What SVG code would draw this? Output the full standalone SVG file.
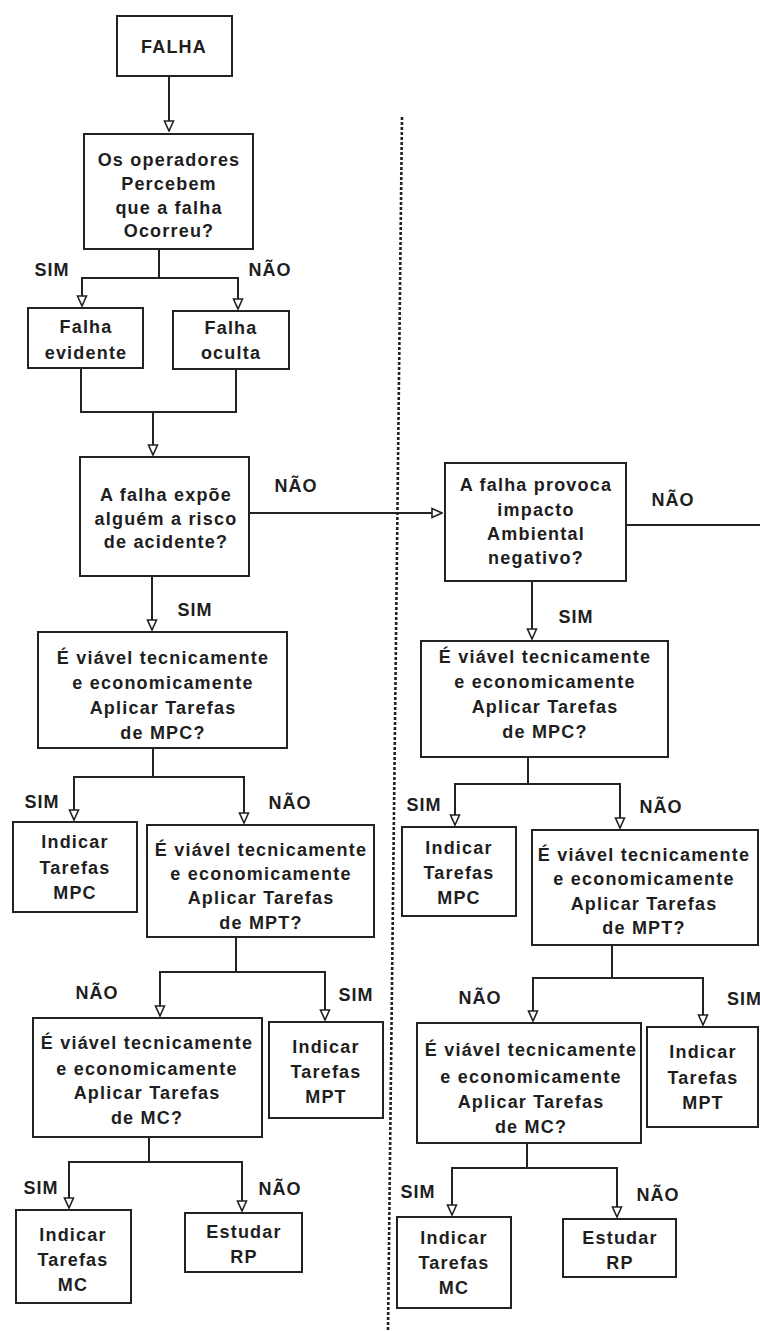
<svg xmlns="http://www.w3.org/2000/svg" width="760" height="1331" viewBox="0 0 760 1331">
<defs>
<style>
.box{fill:#fff;stroke:#222;stroke-width:2}
.t{font-family:"Liberation Sans",Arial,sans-serif;font-size:18px;font-weight:bold;fill:#1e1e1e;text-anchor:middle;dominant-baseline:central;letter-spacing:1.2px}
.lbl{font-family:"Liberation Sans",Arial,sans-serif;font-size:18px;font-weight:bold;fill:#1e1e1e;text-anchor:middle;dominant-baseline:central;letter-spacing:1px}
.c{fill:none;stroke:#222;stroke-width:2}
.ca{fill:none;stroke:#222;stroke-width:2;marker-end:url(#ah)}
.sep{fill:none;stroke:#222;stroke-width:2.6;stroke-dasharray:3 2}
</style>
<marker id="ah" viewBox="0 0 12 12" refX="11" refY="6" markerWidth="12" markerHeight="12" markerUnits="userSpaceOnUse" orient="auto">
<path d="M1,1.5 L11,6 L1,10.5 z" fill="#fff" stroke="#222" stroke-width="1.6"/>
</marker>
</defs>
<rect width="760" height="1331" fill="#fff"/>

<g id="separator">
<line class="sep" x1="402" y1="117" x2="388" y2="1331"/>
</g>

<g id="connectors">
<path class="ca" d="M169,76 V131"/>
<path class="c" d="M159,249 V278"/>
<path class="ca" d="M159,278 H82 V306"/>
<path class="ca" d="M159,278 H238 V309"/>
<path class="c" d="M81,368 V412 H236 V369"/>
<path class="ca" d="M153,412 V455"/>
<path class="ca" d="M249,513 H442"/>
<path class="ca" d="M152,576 V630"/>
<path class="c" d="M626,525 H760"/>
<path class="ca" d="M532,581 V639"/>
<path class="c" d="M153,748 V777"/>
<path class="ca" d="M153,777 H74 V820"/>
<path class="ca" d="M153,777 H244 V823"/>
<path class="c" d="M236,937 V972"/>
<path class="ca" d="M236,972 H160 V1016"/>
<path class="ca" d="M236,972 H325 V1020"/>
<path class="c" d="M149,1137 V1162"/>
<path class="ca" d="M149,1162 H69 V1208"/>
<path class="ca" d="M149,1162 H242 V1211"/>
<path class="c" d="M528,757 V784"/>
<path class="ca" d="M528,784 H455 V825"/>
<path class="ca" d="M528,784 H620 V828"/>
<path class="c" d="M612,945 V978"/>
<path class="ca" d="M612,978 H533 V1021"/>
<path class="ca" d="M612,978 H703 V1025"/>
<path class="c" d="M527,1143 V1168"/>
<path class="ca" d="M527,1168 H452 V1215"/>
<path class="ca" d="M527,1168 H617 V1217"/>
</g>

<g id="labels">
<text class="lbl" x="52" y="270">SIM</text>
<text class="lbl" x="270" y="270">NÃO</text>
<text class="lbl" x="296" y="486">NÃO</text>
<text class="lbl" x="195" y="610">SIM</text>
<text class="lbl" x="673" y="500">NÃO</text>
<text class="lbl" x="576" y="617">SIM</text>
<text class="lbl" x="42" y="802">SIM</text>
<text class="lbl" x="290" y="803">NÃO</text>
<text class="lbl" x="97" y="993">NÃO</text>
<text class="lbl" x="356" y="995">SIM</text>
<text class="lbl" x="41" y="1188">SIM</text>
<text class="lbl" x="280" y="1189">NÃO</text>
<text class="lbl" x="424" y="805">SIM</text>
<text class="lbl" x="661" y="807">NÃO</text>
<text class="lbl" x="480" y="998">NÃO</text>
<text class="lbl" x="727" y="999" style="text-anchor:start">SIM</text>
<text class="lbl" x="418" y="1192">SIM</text>
<text class="lbl" x="658" y="1195">NÃO</text>
</g>

<g id="falha">
<rect class="box" x="117" y="16" width="115" height="60"/>
<text class="t" x="174" y="47">FALHA</text>
</g>

<g id="percebem">
<rect class="box" x="84" y="134" width="169" height="115"/>
<text class="t" x="169" y="160">Os operadores</text>
<text class="t" x="169" y="184">Percebem</text>
<text class="t" x="169" y="208">que a falha</text>
<text class="t" x="169" y="231">Ocorreu?</text>
</g>

<g id="evidente">
<rect class="box" x="28" y="308" width="115" height="60"/>
<text class="t" x="86" y="327">Falha</text>
<text class="t" x="86" y="353">evidente</text>
</g>

<g id="oculta">
<rect class="box" x="173" y="311" width="116" height="58"/>
<text class="t" x="231" y="328">Falha</text>
<text class="t" x="231" y="353">oculta</text>
</g>

<g id="risco">
<rect class="box" x="80" y="457" width="169" height="119"/>
<text class="t" x="166" y="495">A falha expõe</text>
<text class="t" x="166" y="519">alguém a risco</text>
<text class="t" x="166" y="542">de acidente?</text>
</g>

<g id="ambiental">
<rect class="box" x="445" y="463" width="181" height="118"/>
<text class="t" x="536" y="485">A falha provoca</text>
<text class="t" x="536" y="510">impacto</text>
<text class="t" x="536" y="534">Ambiental</text>
<text class="t" x="536" y="558">negativo?</text>
</g>

<g id="mpc-q-left">
<rect class="box" x="38" y="632" width="249" height="116"/>
<text class="t" x="163" y="658">É viável tecnicamente</text>
<text class="t" x="163" y="683">e economicamente</text>
<text class="t" x="163" y="708">Aplicar Tarefas</text>
<text class="t" x="163" y="733">de MPC?</text>
</g>

<g id="mpc-ind-left">
<rect class="box" x="13" y="822" width="124" height="90"/>
<text class="t" x="75" y="842">Indicar</text>
<text class="t" x="75" y="868">Tarefas</text>
<text class="t" x="75" y="893">MPC</text>
</g>

<g id="mpt-q-left">
<rect class="box" x="147" y="825" width="227" height="112"/>
<text class="t" x="261" y="850">É viável tecnicamente</text>
<text class="t" x="261" y="874">e economicamente</text>
<text class="t" x="261" y="898">Aplicar Tarefas</text>
<text class="t" x="261" y="923">de MPT?</text>
</g>

<g id="mc-q-left">
<rect class="box" x="33" y="1018" width="229" height="119"/>
<text class="t" x="147" y="1043">É viável tecnicamente</text>
<text class="t" x="147" y="1069">e economicamente</text>
<text class="t" x="147" y="1093">Aplicar Tarefas</text>
<text class="t" x="147" y="1118">de MC?</text>
</g>

<g id="mpt-ind-left">
<rect class="box" x="269" y="1022" width="114" height="96"/>
<text class="t" x="326" y="1047">Indicar</text>
<text class="t" x="326" y="1072">Tarefas</text>
<text class="t" x="326" y="1097">MPT</text>
</g>

<g id="mc-ind-left">
<rect class="box" x="16" y="1210" width="115" height="93"/>
<text class="t" x="73" y="1235">Indicar</text>
<text class="t" x="73" y="1260">Tarefas</text>
<text class="t" x="73" y="1285">MC</text>
</g>

<g id="rp-left">
<rect class="box" x="185" y="1213" width="117" height="59"/>
<text class="t" x="244" y="1232">Estudar</text>
<text class="t" x="244" y="1257">RP</text>
</g>

<g id="mpc-q-right">
<rect class="box" x="421" y="641" width="247" height="116"/>
<text class="t" x="545" y="657">É viável tecnicamente</text>
<text class="t" x="545" y="682">e economicamente</text>
<text class="t" x="545" y="707">Aplicar Tarefas</text>
<text class="t" x="545" y="732">de MPC?</text>
</g>

<g id="mpc-ind-right">
<rect class="box" x="402" y="827" width="114" height="89"/>
<text class="t" x="459" y="848">Indicar</text>
<text class="t" x="459" y="873">Tarefas</text>
<text class="t" x="459" y="898">MPC</text>
</g>

<g id="mpt-q-right">
<rect class="box" x="532" y="830" width="226" height="115"/>
<text class="t" x="644" y="855">É viável tecnicamente</text>
<text class="t" x="644" y="879">e economicamente</text>
<text class="t" x="644" y="904">Aplicar Tarefas</text>
<text class="t" x="644" y="928">de MPT?</text>
</g>

<g id="mc-q-right">
<rect class="box" x="417" y="1023" width="224" height="120"/>
<text class="t" x="531" y="1050">É viável tecnicamente</text>
<text class="t" x="531" y="1077">e economicamente</text>
<text class="t" x="531" y="1102">Aplicar Tarefas</text>
<text class="t" x="531" y="1127">de MC?</text>
</g>

<g id="mpt-ind-right">
<rect class="box" x="647" y="1027" width="111" height="100"/>
<text class="t" x="703" y="1052">Indicar</text>
<text class="t" x="703" y="1078">Tarefas</text>
<text class="t" x="703" y="1103">MPT</text>
</g>

<g id="mc-ind-right">
<rect class="box" x="397" y="1217" width="114" height="91"/>
<text class="t" x="454" y="1238">Indicar</text>
<text class="t" x="454" y="1263">Tarefas</text>
<text class="t" x="454" y="1288">MC</text>
</g>

<g id="rp-right">
<rect class="box" x="563" y="1219" width="113" height="58"/>
<text class="t" x="620" y="1238">Estudar</text>
<text class="t" x="620" y="1263">RP</text>
</g>
</svg>
